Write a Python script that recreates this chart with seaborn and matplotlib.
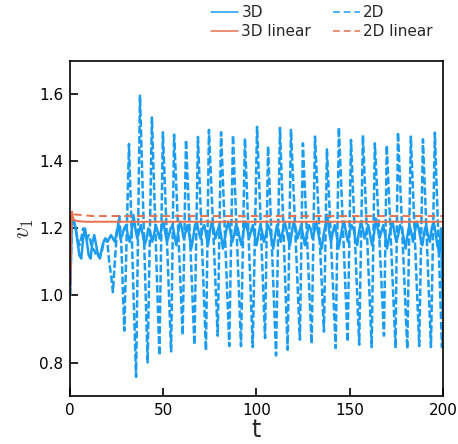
import numpy as np
import pandas as pd
import matplotlib
matplotlib.use("Agg")
import matplotlib.pyplot as plt
from matplotlib.lines import Line2D
import seaborn as sns

sns.set_style("white")
plt.rcParams['font.family'] = ['DejaVu Sans']
plt.rcParams['mathtext.fontset'] = 'cm'

# ---- data ----
# 3D run, one value per time unit, t = 0..200
t_3d = list(range(0, 201))
v_3d = [1.00, 1.23, 1.22, 1.20, 1.16, 1.12, 1.11, 1.17, 1.20, 1.16,
        1.12, 1.11, 1.16, 1.18, 1.15, 1.12, 1.11, 1.14, 1.16, 1.17,
        1.16, 1.17, 1.18, 1.17, 1.16, 1.19, 1.21, 1.17, 1.18, 1.20,
        1.21, 1.18, 1.16, 1.19, 1.24, 1.20, 1.17, 1.19, 1.21, 1.18,
        1.15, 1.17, 1.20, 1.19, 1.16, 1.18, 1.21, 1.19, 1.17, 1.20,
        1.22, 1.19, 1.16, 1.18, 1.20, 1.21, 1.18, 1.15, 1.19, 1.22,
        1.20, 1.17, 1.19, 1.21, 1.18, 1.14, 1.17, 1.21, 1.22, 1.19,
        1.17, 1.20, 1.21, 1.18, 1.15, 1.19, 1.22, 1.20, 1.17, 1.19,
        1.21, 1.18, 1.14, 1.17, 1.20, 1.22, 1.19, 1.16, 1.18, 1.21,
        1.20, 1.17, 1.15, 1.19, 1.22, 1.20, 1.17, 1.19, 1.21, 1.18,
        1.15, 1.18, 1.21, 1.19, 1.16, 1.18, 1.21, 1.20, 1.17, 1.14,
        1.18, 1.21, 1.19, 1.16, 1.19, 1.22, 1.20, 1.17, 1.15, 1.19,
        1.22, 1.20, 1.17, 1.19, 1.21, 1.18, 1.15, 1.18, 1.21, 1.20,
        1.17, 1.19, 1.22, 1.19, 1.16, 1.14, 1.18, 1.21, 1.24, 1.19,
        1.16, 1.19, 1.21, 1.18, 1.14, 1.17, 1.20, 1.22, 1.19, 1.16,
        1.19, 1.21, 1.20, 1.17, 1.15, 1.19, 1.22, 1.20, 1.17, 1.19,
        1.21, 1.18, 1.15, 1.18, 1.23, 1.20, 1.17, 1.19, 1.21, 1.18,
        1.14, 1.17, 1.20, 1.22, 1.19, 1.16, 1.18, 1.21, 1.20, 1.17,
        1.14, 1.18, 1.21, 1.19, 1.16, 1.19, 1.22, 1.20, 1.17, 1.15,
        1.19, 1.21, 1.18, 1.16, 1.20, 1.22, 1.19, 1.15, 1.13, 1.20,
        0.95]

# 2D run: smooth start, then troughs / peaks of the oscillation
t_2d = [0, 1, 2, 3, 4, 5, 6, 7, 8, 9, 10, 11, 12, 13, 14, 15, 16, 17, 18, 19,
        20, 21, 22, 23, 24, 25, 26.4, 27.5,
        29.1, 31.6, 35.4, 37.5, 41.6, 43.9, 47.9, 49.8, 54.2, 55.8,
        60.4, 62.2, 66.7, 68.6, 72.9, 74.5, 79.2, 81.0, 85.4, 87.4,
        91.7, 93.8, 98.0, 100.3, 104.6, 106.2, 110.5, 112.6, 116.7, 118.5,
        123.3, 124.9, 129.6, 131.4, 136.2, 137.8, 142.5, 144.2, 148.9, 150.7,
        155.1, 157.1, 161.8, 163.5, 168.4, 169.9, 174.6, 175.9, 180.9, 182.8,
        187.3, 189.3, 193.6, 195.7, 199.5, 200]
v_2d = [1.00, 1.235, 1.225, 1.20, 1.17, 1.15, 1.17, 1.20, 1.19, 1.17,
        1.18, 1.16, 1.14, 1.135, 1.12, 1.125, 1.115, 1.13, 1.16, 1.17,
        1.16, 1.10, 1.06, 1.01, 1.10, 1.18, 1.237, 1.15,
        0.895, 1.452, 0.757, 1.596, 0.800, 1.531, 0.821, 1.487, 0.833, 1.480,
        0.882, 1.464, 0.853, 1.473, 0.836, 1.494, 0.880, 1.487, 0.849, 1.478,
        0.849, 1.469, 0.846, 1.503, 0.873, 1.445, 0.821, 1.500, 0.838, 1.494,
        0.868, 1.454, 0.856, 1.474, 0.892, 1.436, 0.843, 1.501, 0.862, 1.464,
        0.853, 1.478, 0.846, 1.454, 0.880, 1.448, 0.843, 1.487, 0.841, 1.474,
        0.849, 1.466, 0.846, 1.486, 0.846, 0.90]

# linear models
t_lin = [0, 0.5, 1, 1.5, 2, 4, 6, 8, 10, 12, 200]
v_3d_lin = [1.0, 1.18, 1.25, 1.235, 1.225, 1.222, 1.221, 1.22, 1.22, 1.22, 1.22]
v_2d_lin = [1.0, 1.18, 1.25, 1.24, 1.242, 1.241, 1.240, 1.239, 1.238, 1.237, 1.237]

blue = '#1a9cf2'
orange = '#e8704a'

fig = plt.figure(figsize=(4.58, 4.44), dpi=100)
ax = fig.add_axes([0.153, 0.108, 0.814, 0.755])

sns.lineplot(x=t_2d, y=v_2d, ax=ax, color=blue, lw=1.8,
             linestyle=(0, (3, 1.1)), legend=False)
sns.lineplot(x=t_3d, y=v_3d, ax=ax, color=blue, lw=1.8, legend=False)
sns.lineplot(x=t_lin, y=v_3d_lin, ax=ax, color=orange, lw=1.4, legend=False)
sns.lineplot(x=t_lin, y=v_2d_lin, ax=ax, color=orange, lw=1.4,
             linestyle=(0, (4, 2.5)), legend=False)

ax.set_xlim(0, 200)
ax.set_ylim(0.7, 1.7)
ax.set_xticks([0, 50, 100, 150, 200])
ax.set_yticks([0.8, 1.0, 1.2, 1.4, 1.6])
ax.tick_params(direction='in', length=6, width=1.2, labelsize=11,
               bottom=True, left=True, top=False, right=False,
               colors='black', pad=5)
for s in ax.spines.values():
    s.set_color('black')
    s.set_linewidth(1.2)

ax.set_xlabel('t', fontsize=17, labelpad=0)
ax.set_ylabel(r'$v_1$', fontsize=17, labelpad=2)

# legend above the axes, 2 columns (column-major: 3D, 3D linear | 2D, 2D linear)
leg_handles = [
    Line2D([], [], color=blue, lw=1.1),
    Line2D([], [], color=orange, lw=1.1),
    Line2D([], [], color=blue, lw=1.1, linestyle=(0, (4.5, 2.5))),
    Line2D([], [], color=orange, lw=1.1, linestyle=(0, (4.5, 2.5))),
]
leg_labels = ['3D', '3D linear', '2D', '2D linear']
fig.legend(leg_handles, leg_labels,
           ncol=2, frameon=False, loc='upper right',
           bbox_to_anchor=(0.975, 1.02), fontsize=11,
           handlelength=1.8, handletextpad=0.2, columnspacing=1.4,
           labelspacing=0.3)

fig.savefig('out.png', dpi=100)
